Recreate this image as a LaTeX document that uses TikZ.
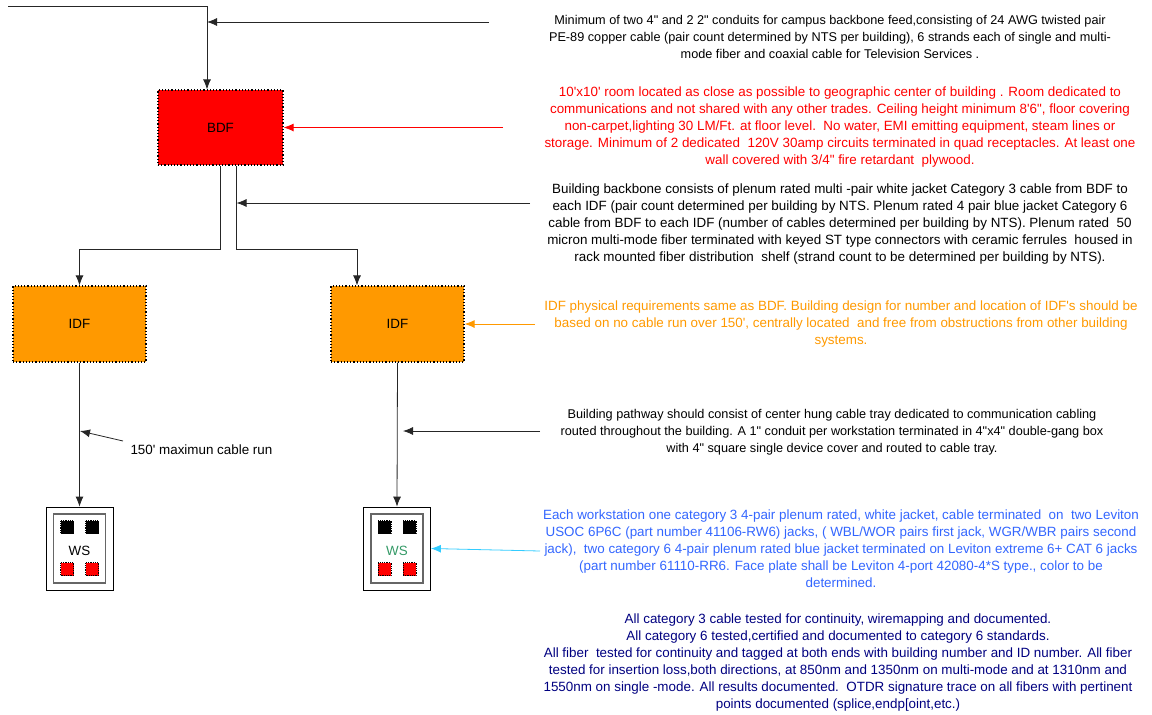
\documentclass[tikz,border=0pt]{standalone}
\usepackage{fontspec}
\usetikzlibrary{arrows.meta}
\newfontfamily\arialfont{Liberation Sans}
\definecolor{idforange}{HTML}{FF9900}
\definecolor{wsblue}{HTML}{3366FF}
\definecolor{wsgreen}{HTML}{339966}
\definecolor{testnavy}{HTML}{000080}
\definecolor{plugcyan}{HTML}{33CCFF}
\begin{document}
\begin{tikzpicture}[x=1pt,y=-1pt,>={Latex[length=10pt,width=8pt]},
  every node/.style={font=\arialfont\fontsize{13.4}{17}\selectfont},
  smallnote/.style={font=\arialfont\fontsize{12.7}{17}\selectfont},
  closet/.style={draw,dotted,line width=1.2pt,minimum width=133pt,minimum height=76pt,inner sep=0pt},
  plate/.style={draw,line width=0.8pt,minimum width=67pt,minimum height=83pt,inner sep=0pt},
  faceplate/.style={draw=black!60,line width=1.3pt,minimum width=52pt,minimum height=69pt,inner sep=0pt},
  jack/.style={draw,densely dotted,line width=0.8pt,minimum size=13pt,inner sep=0pt},
  note/.style={align=center,inner sep=0pt},
  wire/.style={->,line width=0.8pt,draw=black!85}]
\useasboundingbox (0,0) rectangle (1152,715);

\node[closet,fill=red,minimum width=125pt,minimum height=75pt] (bdf) at (220.5,127.5) {BDF};
\node[closet,fill=idforange] (idfa) at (79.5,324) {IDF};
\node[closet,fill=idforange] (idfb) at (397.5,324) {IDF};
\node[plate] (wsa) at (79.5,548.5) {};
\node[plate] (wsb) at (397,548.5) {};
\node[faceplate] at (wsa) {};
\node[faceplate] at (wsb) {};
\node (wslabela) at (79.5,551) {WS};
\node[text=wsgreen] (wslabelb) at (397,551) {WS};
\foreach \p in {wsa,wsb}
  \foreach \dx in {-12.5,12.5}{
    \node[jack,fill=black] at ([xshift=\dx pt,yshift=21.5pt]\p.center) {};
    \node[jack,fill=red] at ([xshift=\dx pt,yshift=-20.5pt]\p.center) {};
  }

\node[note,smallnote] (feednote) at (830,37) {Minimum of two 4" and 2 2" conduits for campus backbone feed,consisting of 24 AWG twisted pair\\
PE-89 copper cable (pair count determined by NTS per building), 6 strands each of single and multi-\\
mode fiber and coaxial cable for Television Services .};
\node[note,text=red] (roomnote) at (840,127.5) {10'x10' room located as close as possible to geographic center of building . Room dedicated to\\
communications and not shared with any other trades. Ceiling height minimum 8'6", floor covering\\
non-carpet,lighting 30 LM/Ft. at floor level.\ \ No water, EMI emitting equipment, steam lines or\\
storage. Minimum of 2 dedicated\ \ 120V 30amp circuits terminated in quad receptacles. At least one\\
wall covered with 3/4" fire retardant\ \ plywood.};
\node[note] (backbonenote) at (840,224.5) {Building backbone consists of plenum rated multi -pair white jacket Category 3 cable from BDF to\\
each IDF (pair count determined per building by NTS. Plenum rated 4 pair blue jacket Category 6\\
cable from BDF to each IDF (number of cables determined per building by NTS). Plenum rated\ \ 50\\
micron multi-mode fiber terminated with keyed ST type connectors with ceramic ferrules\ \ housed in\\
rack mounted fiber distribution\ \ shelf (strand count to be determined per building by NTS).};
\node[note,text=idforange] (idfnote) at (841,324) {IDF physical requirements same as BDF. Building design for number and location of IDF's should be\\
based on no cable run over 150', centrally located\ \ and free from obstructions from other building\\
systems.};
\node[note,smallnote] (pathnote) at (832,432) {Building pathway should consist of center hung cable tray dedicated to communication cabling\\
routed throughout the building. A 1" conduit per workstation terminated in 4"x4" double-gang box\\
with 4" square single device cover and routed to cable tray.};
\node[note,text=wsblue] (wsnote) at (841,549) {Each workstation one category 3 4-pair plenum rated, white jacket, cable terminated\ \ on\ \ two Leviton\\
USOC 6P6C (part number 41106-RW6) jacks, ( WBL/WOR pairs first jack, WGR/WBR pairs second\\
jack),\ \ two category 6 4-pair plenum rated blue jacket terminated on Leviton extreme 6+\ CAT 6 jacks\\
(part number 61110-RR6. Face plate shall be Leviton 4-port 42080-4*S type., color to be\\
determined.};
\node[note,text=testnavy] (testnote) at (838,663) {All category 3 cable tested for continuity, wiremapping and documented.\\
All category 6 tested,certified and documented to category 6 standards.\\
All fiber\ \ tested for continuity and tagged at both ends with building number and ID number. All fiber\\
tested for insertion loss,both directions, at 850nm and 1350nm on multi-mode and at 1310nm and\\
1550nm on single -mode. All results documented.\ \ OTDR signature trace on all fibers with pertinent\\
points documented (splice,endp[oint,etc.)};
\node[anchor=west] (runnote) at (127,450) {150' maximun cable run};

\coordinate (feed) at (8,6);
\coordinate (feedtail) at (489,22);
\coordinate (feedtip) at (207,22);
\coordinate (roomtail) at (503,127.5);
\coordinate (backbonetail) at (530,203);
\coordinate (backbonetip) at (236.5,203);
\coordinate (idftail) at (535,324);
\coordinate (runtail) at (123,441);
\coordinate (runtip) at (80,431);
\coordinate (pathtail) at (540,431);
\coordinate (pathtip) at (403,431);
\coordinate (wstail) at (540,551);

\draw[wire] (feed) -| ([xshift=-13.5pt]bdf.north);
\draw[wire] (feedtail) -- (feedtip);
\draw[wire,draw=red] (roomtail) -- (bdf.east);
\draw[wire] (bdf.south) -- ++(0,84) -| (idfa.north);
\draw[wire] ([xshift=16pt]bdf.south) -- ++(0,84) -| ([xshift=-40.5pt]idfb.north);
\draw[wire] (backbonetail) -- (backbonetip);
\draw[wire,draw=idforange] (idftail) -- (idfb.east);
\draw[wire] (idfa.south) -- (wsa.north);
\draw[wire] (idfb.south) -- (wsb.north);
\draw[wire] (runtail) -- (runtip);
\draw[wire] (pathtail) -- (pathtip);
\draw[wire,draw=plugcyan] (wstail) -- (wsb.east);
\end{tikzpicture}
\end{document}
